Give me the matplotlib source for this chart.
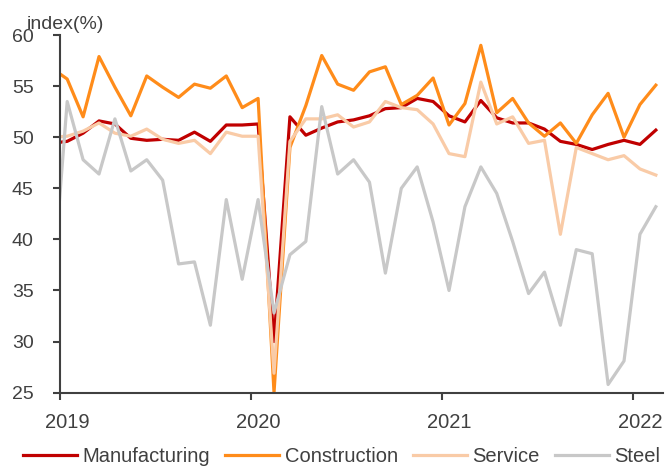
import numpy as np
import matplotlib
matplotlib.use('Agg')
import matplotlib.pyplot as plt

plt.rcParams['font.family'] = ['Liberation Sans', 'DejaVu Sans']

# monthly index, Dec 2018 .. Feb 2022 (month 0 = Jan 2019)
months = np.arange(-1, 38)
manufacturing = [49.4, 49.6, 50.4, 51.6, 51.3, 49.9, 49.7, 49.8, 49.7, 50.5, 49.6, 51.2, 51.2,
                 51.3, 30.0, 52.0, 50.2, 50.9, 51.5, 51.7, 52.1, 52.8, 52.9, 53.8, 53.5, 52.1,
                 51.5, 53.6, 51.9, 51.4, 51.4, 50.8, 49.6, 49.3, 48.8, 49.3, 49.7, 49.3, 50.7]
construction = [56.8, 55.7, 52.0, 57.9, 54.9, 52.1, 56.0, 54.9, 53.9, 55.2, 54.8, 56.0, 52.9,
                53.8, 25.0, 49.0, 53.1, 58.0, 55.2, 54.6, 56.4, 56.9, 53.2, 54.1, 55.8, 51.2,
                53.3, 59.0, 52.4, 53.8, 51.4, 50.1, 51.4, 49.4, 52.2, 54.3, 50.0, 53.2, 55.1]
service = [50.0, 50.1, 50.6, 51.4, 50.4, 50.1, 50.8, 49.8, 49.4, 49.7, 48.4, 50.5, 50.1,
           50.1, 26.9, 49.6, 51.8, 51.8, 52.2, 51.0, 51.5, 53.5, 52.9, 52.7, 51.3, 48.4,
           48.1, 55.4, 51.3, 52.0, 49.4, 49.7, 40.5, 49.0, 48.4, 47.8, 48.2, 46.9, 46.3]
steel = [33.5, 53.5, 47.8, 46.4, 51.8, 46.7, 47.8, 45.8, 37.6, 37.8, 31.6, 43.9, 36.1,
         43.9, 32.8, 38.5, 39.8, 53.0, 46.4, 47.8, 45.6, 36.7, 45.0, 47.1, 41.7, 35.0,
         43.2, 47.1, 44.5, 39.8, 34.7, 36.8, 31.6, 39.0, 38.6, 25.8, 28.1, 40.5, 43.2]
years = ['2019', '2020', '2021', '2022']

txt = '#404040'
fig = plt.figure(figsize=(6.67, 4.68), dpi=100)
ax = fig.add_axes([0.09, 0.161, 0.904, 0.764])

ax.plot(months, manufacturing, color='#C00000', lw=2.3, label='Manufacturing')
ax.plot(months, construction, color='#FF8C1A', lw=2.3, label='Construction')
ax.plot(months, service, color='#F9CBA7', lw=2.3, label='Service')
ax.plot(months, steel, color='#C8C8C8', lw=2.3, label='Steel')

ax.set_xlim(-0.45, 37.45)
ax.set_ylim(25, 60)
ax.set_yticks(range(25, 61, 5))

# year boundaries get the tick marks, labels sit on the January points
ax.set_xticks([12 * i - 0.45 for i in range(len(years))])
ax.set_xticklabels([])
ax.set_xticks([12 * i for i in range(len(years))], minor=True)
ax.set_xticklabels(years, minor=True)

for s in ['top', 'right']:
    ax.spines[s].set_visible(False)
for s in ['left', 'bottom']:
    ax.spines[s].set_color(txt)
    ax.spines[s].set_linewidth(1.5)

ax.tick_params(axis='y', direction='out', length=5, width=1.5, color=txt,
               labelcolor=txt, labelsize=14, pad=14)
ax.tick_params(axis='x', which='major', direction='out', length=5, width=1.5, color=txt)
ax.tick_params(axis='x', which='minor', length=0, labelcolor=txt, labelsize=14.5, pad=15)

fig.text(0.040, 0.939, 'index(%)', color=txt, fontsize=14, va='baseline', ha='left')

fig.legend(loc='center', bbox_to_anchor=(0.512, 0.024), ncol=4, frameon=False,
           fontsize=14.5, handlelength=2.7, handletextpad=0.25, columnspacing=0.75,
           labelcolor=txt)

fig.savefig('out.png', dpi=100)
